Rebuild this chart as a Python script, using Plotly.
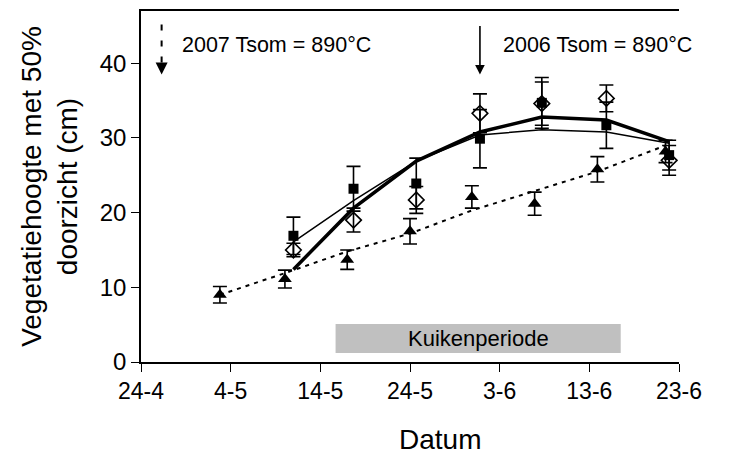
import plotly.graph_objects as go

# x positions: days after 24 April
tick_days = [0, 10, 20, 30, 40, 50, 60]
tick_labels = ["24-4", "4-5", "14-5", "24-5", "3-6", "13-6", "23-6"]

# filled squares
sq_day = [17.0, 23.7, 30.7, 37.8, 44.7, 51.9, 58.9]
sq_val = [16.9, 23.2, 23.9, 29.9, 34.7, 31.7, 27.7]
sq_err = [2.5, 3.0, 3.4, 3.9, 3.4, 3.1, 2.0]

# open diamonds
di_day = [17.0, 23.7, 30.7, 37.8, 44.7, 51.9, 58.9]
di_val = [15.0, 19.0, 21.7, 33.3, 34.6, 35.3, 27.0]
di_err = [0.9, 1.6, 1.8, 2.6, 2.9, 1.8, 2.0]

# filled triangles
tr_day = [8.8, 16.05, 23.0, 30.0, 36.9, 43.9, 50.9, 58.5]
tr_val = [9.0, 11.1, 13.7, 17.5, 22.1, 21.2, 25.8, 28.2]
tr_err = [1.1, 1.2, 1.3, 1.7, 1.5, 1.55, 1.7, 1.5]

# trend lines
thick_val = [12.4, 20.6, 26.9, 30.8, 32.8, 32.4, 29.5]
thin_val = [16.1, 21.6, 26.9, 30.4, 31.1, 30.8, 29.3]
dash_val = [9.0, 11.9, 14.8, 17.2, 20.3, 22.9, 25.5, 29.0]

arrow_2007_day = 2.3
arrow_2006_day = 37.8
arrow_top = 45.2
arrow_tip = 38.5
label_y = 42.5
label_2007_day = 4.4
label_2006_day = 40.2

kuiken_start = 21.7
kuiken_end = 53.5
kuiken_y0 = 1.2
kuiken_y1 = 5.1

FONT = "Liberation Sans, Arial, sans-serif"

fig = go.Figure()

fig.add_trace(go.Scatter(x=sq_day, y=thin_val, mode="lines",
                         line=dict(color="black", width=1.5), showlegend=False))
fig.add_trace(go.Scatter(x=sq_day, y=thick_val, mode="lines",
                         line=dict(color="black", width=3.5), showlegend=False))
fig.add_trace(go.Scatter(x=tr_day, y=dash_val, mode="lines",
                         line=dict(color="black", width=2, dash="4px,5px"), showlegend=False))

errstyle = dict(type="data", visible=True, color="black", thickness=1.6, width=7)

fig.add_trace(go.Scatter(x=tr_day, y=tr_val, mode="markers",
                         marker=dict(symbol="triangle-up", size=12, color="black"),
                         error_y=dict(array=tr_err, **errstyle), showlegend=False))
fig.add_trace(go.Scatter(x=di_day, y=di_val, mode="markers",
                         marker=dict(symbol="diamond", size=12, color="rgba(255,255,255,0)",
                                     line=dict(color="black", width=1.6)),
                         error_y=dict(array=di_err, **errstyle), showlegend=False))
fig.add_trace(go.Scatter(x=sq_day, y=sq_val, mode="markers",
                         marker=dict(symbol="square", size=10, color="black"),
                         error_y=dict(array=sq_err, **errstyle), showlegend=False))

# Kuikenperiode box
fig.add_shape(type="rect", x0=kuiken_start, x1=kuiken_end, y0=kuiken_y0, y1=kuiken_y1,
              fillcolor="#c0c0c0", line=dict(width=0), layer="below")
fig.add_annotation(x=(kuiken_start + kuiken_end) / 2, y=(kuiken_y0 + kuiken_y1) / 2,
                   text="Kuikenperiode", showarrow=False,
                   font=dict(family=FONT, size=22, color="black"))

# 2007 dashed arrow
fig.add_shape(type="line", x0=arrow_2007_day, x1=arrow_2007_day, y0=arrow_top, y1=arrow_tip + 1.3,
              line=dict(color="black", width=2, dash="6px,10px"))
fig.add_annotation(x=arrow_2007_day, y=arrow_tip, ax=0, ay=-10, showarrow=True,
                   arrowhead=2, arrowsize=1.2, arrowwidth=2, arrowcolor="black", text="")
# 2006 solid arrow
fig.add_annotation(x=arrow_2006_day, y=arrow_tip, ax=0, ay=-50, showarrow=True,
                   arrowhead=2, arrowsize=1.2, arrowwidth=1.6, arrowcolor="black", text="")

fig.add_annotation(x=label_2007_day, y=label_y, xanchor="left", yanchor="middle",
                   text="2007 Tsom = 890°C", showarrow=False,
                   font=dict(family=FONT, size=21.5, color="black"))
fig.add_annotation(x=label_2006_day, y=label_y, xanchor="left", yanchor="middle",
                   text="2006 Tsom = 890°C", showarrow=False,
                   font=dict(family=FONT, size=21.5, color="black"))

# x-axis title (placed slightly right of plot centre, as in the original)
fig.add_annotation(x=0.556, y=-0.221, xref="paper", yref="paper",
                   xanchor="center", yanchor="middle", text="Datum", showarrow=False,
                   font=dict(family=FONT, size=28, color="black"))

fig.update_layout(
    width=734, height=463,
    margin=dict(l=141, r=55, t=9, b=101),
    plot_bgcolor="white", paper_bgcolor="white",
    font=dict(family=FONT, color="black"),
)
fig.update_xaxes(range=[0, 60], tickvals=tick_days, ticktext=tick_labels,
                 showgrid=False, zeroline=False, showline=True, linecolor="black",
                 linewidth=1.5, mirror=True, ticks="outside", ticklen=8, tickcolor="black",
                 tickfont=dict(size=23))
fig.update_yaxes(range=[0, 47], tickvals=[0, 10, 20, 30, 40],
                 showgrid=False, zeroline=False, showline=True, linecolor="black",
                 linewidth=1.5, ticks="outside", ticklen=8, tickcolor="black",
                 tickfont=dict(size=24),
                 title=dict(text="Vegetatiehoogte met 50%<br>doorzicht (cm)", font=dict(size=28), standoff=14))

fig.write_html("out.html")
